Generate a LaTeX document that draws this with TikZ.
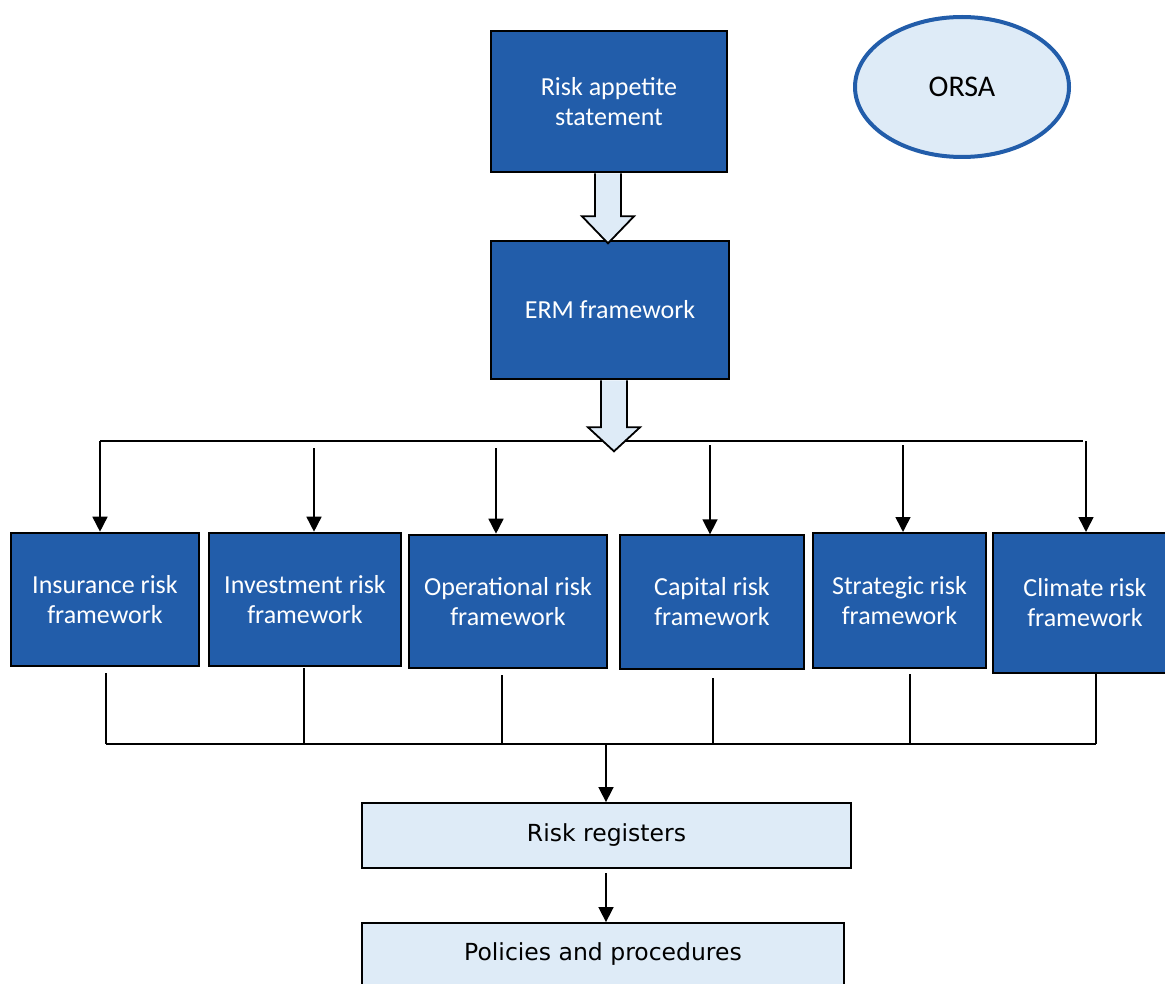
\documentclass[tikz,border=0pt]{standalone}
\usepackage{fontspec}
\setmainfont{Carlito}
\newfontfamily\verd{DejaVu Sans}
\usetikzlibrary{arrows.meta,calc,shapes.geometric}
\definecolor{dblue}{HTML}{225DAA}
\definecolor{lblue}{HTML}{DEEBF7}
\begin{document}
\begin{tikzpicture}[x=1pt,y=-1pt,
  bluebox/.style={draw=black, line width=2.6pt, fill=dblue, text=white, align=center,
    font=\fontsize{26}{30}\selectfont, inner sep=0pt},
  lightbox/.style={draw=black, line width=1.8pt, fill=lblue, text=black, align=center,
    font=\verd\fontsize{23.5}{28}\selectfont, inner sep=0pt},
  blockarrow/.style={draw=black, line width=1.8pt, fill=lblue, line join=miter},
  conn/.style={draw=black, line width=1.6pt},
  arr/.style={conn, -{Triangle[length=15pt,width=15pt]}}]
\useasboundingbox (0,0) rectangle (1165,984);

% top boxes
\node[bluebox, minimum width=236pt, minimum height=141pt] (ras) at (609,101.5) {Risk appetite\\statement};
\node[bluebox, minimum width=238pt, minimum height=138pt] (erm) at (610,310) {ERM framework};
\node[ellipse, draw=dblue, line width=4pt, fill=lblue, minimum width=214pt, minimum height=140pt,
  inner sep=0pt, font=\fontsize{30}{34}\selectfont] (orsa) at (962,87) {ORSA};

% block arrows
\draw[blockarrow] ($(ras.south)+(-14,0)$) -- ($(ras.south)+(-14,43)$) -- ($(ras.south)+(-27,43)$)
  -- ($(ras.south)+(-1,70)$) -- ($(ras.south)+(25,43)$) -- ($(ras.south)+(12,43)$)
  -- ($(ras.south)+(12,0)$);

% framework boxes
\node[bluebox, minimum width=188pt, minimum height=133pt] (ins) at (105,599.5) {Insurance risk\\framework};
\node[bluebox, minimum width=192pt, minimum height=133pt] (inv) at (305,599.5) {Investment risk\\framework};
\node[bluebox, minimum width=198pt, minimum height=133pt] (ope) at (508,601.5) {Operational risk\\framework};
\node[bluebox, line width=1.3pt, minimum width=184pt, minimum height=134pt] (cap) at (712,602) {Capital risk\\framework};
\node[bluebox, line width=2pt, minimum width=173pt, minimum height=135pt] (str) at (899.5,600.5) {Strategic risk\\framework};
\node[bluebox, line width=2pt, minimum width=184pt, minimum height=140pt] (cli) at (1085,603) {Climate risk\\framework};

% lower boxes
\node[lightbox, minimum width=489pt, minimum height=65pt] (reg) at (606.5,835.5) {Risk registers};
\node[lightbox, minimum width=482pt, minimum height=62pt] (pol) at (603,954) {Policies and procedures};

% top bus
\coordinate (tl) at (100,441);
\coordinate (tr) at (1083,441);
\draw[conn] (tl) -- (tr);
\coordinate (a1) at (100,441);
\coordinate (a2) at (314,448);
\coordinate (a3) at (496,448);
\coordinate (a4) at (710,445);
\coordinate (a5) at (903,445);
\coordinate (a6) at (1086,441);
\draw[arr] (a1) -- (a1 |- ins.north);
\draw[arr] (a2) -- (a2 |- inv.north);
\draw[arr] (a3) -- (a3 |- ope.north);
\draw[arr] (a4) -- (a4 |- cap.north);
\draw[arr] (a5) -- (a5 |- str.north);
\draw[arr] (a6) -- (a6 |- cli.north);
% block arrow 2 on top of bus
\draw[blockarrow] ($(erm.south)+(-9,0)$) -- ($(erm.south)+(-9,47)$) -- ($(erm.south)+(-22,47)$)
  -- ($(erm.south)+(4,71)$) -- ($(erm.south)+(30,47)$) -- ($(erm.south)+(17,47)$)
  -- ($(erm.south)+(17,0)$);

% bottom bus
\coordinate (bl) at (106,744);
\coordinate (br) at (1096,744);
\draw[conn] (bl) -- (br);
\coordinate (b1) at (106,673);
\coordinate (b2) at (304,668);
\coordinate (b3) at (502,675);
\coordinate (b4) at (713,678);
\coordinate (b5) at (910,674);
\coordinate (b6) at (1096,673);
\foreach \b in {b1,b2,b3,b4,b5,b6} \draw[conn] (\b) -- (\b |- bl);

\coordinate (m1) at (606,744);
\draw[arr] (m1) -- (m1 |- reg.north);
\coordinate (m2) at (606,873);
\draw[arr] (m2) -- (m2 |- pol.north);
\end{tikzpicture}
\end{document}
